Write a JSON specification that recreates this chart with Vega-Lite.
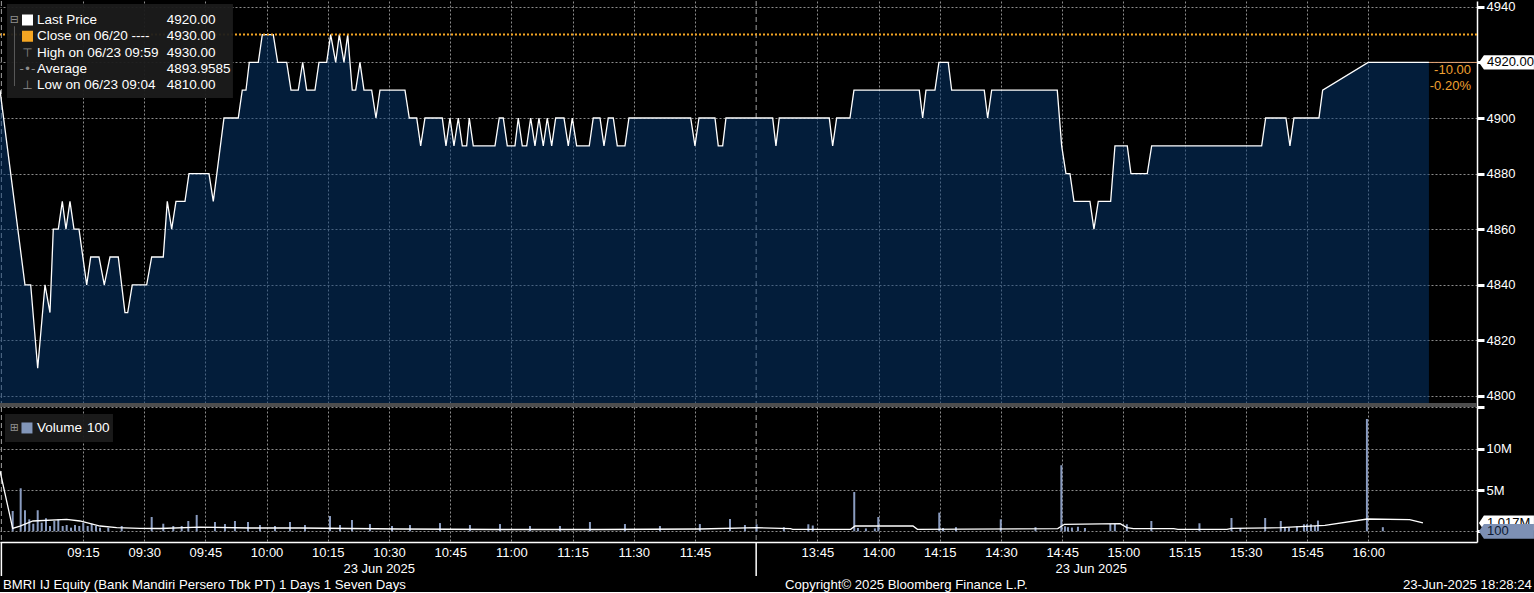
{
  "$schema": "https://vega.github.io/schema/vega-lite/v6.json",
  "background": "#000000",
  "padding": 0,
  "spacing": 0,
  "bounds": "flush",
  "config": {
    "view": {"stroke": null},
    "font": "Liberation Sans",
    "text": {"font": "Liberation Sans"},
    "axis": {"labelFont": "Liberation Sans"}
  },
  "resolve": {"scale": {"x": "independent", "y": "independent"}},
  "datasets": {
    "price": [
      {"t": -5.34, "price": 4910}, {"t": 0.78, "price": 4840}, {"t": 2.18, "price": 4840}, {"t": 3.9, "price": 4810},
      {"t": 5.69, "price": 4840}, {"t": 6.91, "price": 4830}, {"t": 7.72, "price": 4860}, {"t": 8.95, "price": 4860},
      {"t": 9.93, "price": 4870}, {"t": 10.83, "price": 4860}, {"t": 11.81, "price": 4870}, {"t": 12.79, "price": 4860},
      {"t": 14.02, "price": 4860}, {"t": 15.91, "price": 4840}, {"t": 16.89, "price": 4850}, {"t": 18.92, "price": 4850},
      {"t": 20.22, "price": 4840}, {"t": 21.62, "price": 4850}, {"t": 23.65, "price": 4850}, {"t": 25.29, "price": 4830},
      {"t": 25.96, "price": 4830}, {"t": 27.08, "price": 4840}, {"t": 30.61, "price": 4840}, {"t": 31.84, "price": 4850},
      {"t": 34.68, "price": 4850}, {"t": 35.66, "price": 4870}, {"t": 36.74, "price": 4860}, {"t": 37.79, "price": 4870},
      {"t": 40.0, "price": 4870}, {"t": 40.98, "price": 4880}, {"t": 45.88, "price": 4880}, {"t": 46.94, "price": 4870},
      {"t": 49.56, "price": 4900}, {"t": 53.06, "price": 4900}, {"t": 54.04, "price": 4910}, {"t": 54.95, "price": 4910},
      {"t": 55.76, "price": 4920}, {"t": 57.97, "price": 4920}, {"t": 58.95, "price": 4930}, {"t": 61.64, "price": 4930},
      {"t": 62.72, "price": 4920}, {"t": 64.93, "price": 4920}, {"t": 65.98, "price": 4910}, {"t": 67.77, "price": 4910},
      {"t": 68.85, "price": 4920}, {"t": 69.83, "price": 4910}, {"t": 71.86, "price": 4910}, {"t": 72.84, "price": 4920},
      {"t": 74.73, "price": 4920}, {"t": 75.71, "price": 4930}, {"t": 76.94, "price": 4920}, {"t": 77.82, "price": 4930},
      {"t": 78.97, "price": 4920}, {"t": 79.88, "price": 4930}, {"t": 81.0, "price": 4910}, {"t": 81.84, "price": 4910},
      {"t": 82.89, "price": 4920}, {"t": 83.87, "price": 4910}, {"t": 85.76, "price": 4910}, {"t": 86.81, "price": 4900},
      {"t": 87.79, "price": 4910}, {"t": 93.92, "price": 4910}, {"t": 94.98, "price": 4900}, {"t": 96.79, "price": 4900},
      {"t": 97.77, "price": 4890}, {"t": 98.82, "price": 4900}, {"t": 103.06, "price": 4900}, {"t": 103.97, "price": 4890},
      {"t": 104.95, "price": 4900}, {"t": 105.93, "price": 4890}, {"t": 106.99, "price": 4900}, {"t": 107.97, "price": 4890},
      {"t": 109.04, "price": 4890}, {"t": 109.68, "price": 4900}, {"t": 110.66, "price": 4890}, {"t": 115.98, "price": 4890},
      {"t": 117.03, "price": 4900}, {"t": 118.01, "price": 4900}, {"t": 119.0, "price": 4890}, {"t": 120.88, "price": 4890},
      {"t": 121.69, "price": 4900}, {"t": 122.67, "price": 4890}, {"t": 123.75, "price": 4890}, {"t": 124.73, "price": 4900},
      {"t": 125.78, "price": 4890}, {"t": 126.76, "price": 4900}, {"t": 127.82, "price": 4890}, {"t": 128.8, "price": 4900},
      {"t": 129.88, "price": 4890}, {"t": 130.86, "price": 4900}, {"t": 132.89, "price": 4900}, {"t": 133.95, "price": 4890},
      {"t": 134.93, "price": 4900}, {"t": 136.0, "price": 4890}, {"t": 139.09, "price": 4890}, {"t": 140.07, "price": 4900},
      {"t": 141.72, "price": 4900}, {"t": 142.7, "price": 4890}, {"t": 143.75, "price": 4900}, {"t": 144.98, "price": 4900},
      {"t": 145.96, "price": 4890}, {"t": 147.84, "price": 4890}, {"t": 148.82, "price": 4900}, {"t": 163.95, "price": 4900},
      {"t": 165.0, "price": 4890}, {"t": 165.98, "price": 4900}, {"t": 169.9, "price": 4900}, {"t": 170.71, "price": 4890},
      {"t": 171.79, "price": 4890}, {"t": 172.6, "price": 4900}, {"t": 184.04, "price": 4900}, {"t": 184.85, "price": 4890},
      {"t": 185.66, "price": 4900}, {"t": 197.92, "price": 4900}, {"t": 198.75, "price": 4890}, {"t": 199.73, "price": 4900},
      {"t": 202.99, "price": 4900}, {"t": 203.97, "price": 4910}, {"t": 219.98, "price": 4910}, {"t": 220.81, "price": 4900},
      {"t": 221.62, "price": 4910}, {"t": 223.82, "price": 4910}, {"t": 224.8, "price": 4920}, {"t": 227.08, "price": 4920},
      {"t": 227.92, "price": 4910}, {"t": 235.91, "price": 4910}, {"t": 236.74, "price": 4900}, {"t": 237.72, "price": 4910},
      {"t": 253.8, "price": 4910}, {"t": 254.88, "price": 4890}, {"t": 255.93, "price": 4880}, {"t": 256.91, "price": 4880},
      {"t": 257.89, "price": 4870}, {"t": 261.81, "price": 4870}, {"t": 262.79, "price": 4860}, {"t": 263.85, "price": 4870},
      {"t": 266.89, "price": 4870}, {"t": 267.94, "price": 4890}, {"t": 270.96, "price": 4890}, {"t": 271.86, "price": 4880},
      {"t": 275.86, "price": 4880}, {"t": 276.94, "price": 4890}, {"t": 303.9, "price": 4890}, {"t": 304.88, "price": 4900},
      {"t": 309.85, "price": 4900}, {"t": 310.83, "price": 4890}, {"t": 311.81, "price": 4900}, {"t": 317.94, "price": 4900},
      {"t": 318.85, "price": 4910}, {"t": 330.0, "price": 4920}, {"t": 344.9, "price": 4920}
    ],
    "volume": [
      {"t": -2.23, "vol": 2460000}, {"t": -0.27, "vol": 5210000}, {"t": 0.78, "vol": 2550000}, {"t": 1.84, "vol": 1450000},
      {"t": 2.82, "vol": 920000}, {"t": 3.9, "vol": 2550000}, {"t": 4.88, "vol": 1040000}, {"t": 5.93, "vol": 1580000},
      {"t": 6.91, "vol": 640000}, {"t": 7.97, "vol": 1250000}, {"t": 8.95, "vol": 1450000}, {"t": 10.02, "vol": 640000},
      {"t": 11.0, "vol": 760000}, {"t": 12.06, "vol": 440000}, {"t": 13.04, "vol": 760000}, {"t": 14.09, "vol": 640000},
      {"t": 15.07, "vol": 1040000}, {"t": 16.15, "vol": 640000}, {"t": 17.13, "vol": 920000}, {"t": 18.19, "vol": 640000},
      {"t": 19.17, "vol": 440000}, {"t": 21.2, "vol": 440000}, {"t": 24.49, "vol": 640000}, {"t": 31.84, "vol": 1730000},
      {"t": 34.68, "vol": 920000}, {"t": 37.13, "vol": 640000}, {"t": 39.19, "vol": 640000}, {"t": 40.81, "vol": 1250000},
      {"t": 42.87, "vol": 1980000}, {"t": 47.35, "vol": 1130000}, {"t": 49.8, "vol": 880000}, {"t": 52.25, "vol": 1250000},
      {"t": 55.44, "vol": 1130000}, {"t": 58.38, "vol": 760000}, {"t": 62.06, "vol": 640000}, {"t": 65.74, "vol": 1130000},
      {"t": 69.41, "vol": 760000}, {"t": 75.54, "vol": 1850000}, {"t": 78.0, "vol": 760000}, {"t": 80.93, "vol": 1370000},
      {"t": 85.34, "vol": 880000}, {"t": 90.74, "vol": 640000}, {"t": 95.15, "vol": 760000}, {"t": 102.5, "vol": 1000000},
      {"t": 109.85, "vol": 760000}, {"t": 117.21, "vol": 880000}, {"t": 124.56, "vol": 640000}, {"t": 131.91, "vol": 640000},
      {"t": 139.26, "vol": 1130000}, {"t": 147.84, "vol": 880000}, {"t": 156.42, "vol": 640000}, {"t": 166.2, "vol": 880000},
      {"t": 173.58, "vol": 1490000}, {"t": 177.25, "vol": 760000}, {"t": 180.1, "vol": 850000}, {"t": 186.79, "vol": 500000},
      {"t": 192.79, "vol": 850000}, {"t": 193.87, "vol": 700000}, {"t": 204.04, "vol": 4760000}, {"t": 204.95, "vol": 400000},
      {"t": 206.9, "vol": 350000}, {"t": 209.1, "vol": 350000}, {"t": 209.93, "vol": 1730000}, {"t": 224.88, "vol": 2260000},
      {"t": 225.79, "vol": 400000}, {"t": 228.97, "vol": 500000}, {"t": 239.95, "vol": 1450000}, {"t": 248.46, "vol": 500000},
      {"t": 254.8, "vol": 8000000}, {"t": 255.69, "vol": 600000}, {"t": 256.42, "vol": 500000}, {"t": 257.4, "vol": 450000},
      {"t": 258.87, "vol": 550000}, {"t": 260.59, "vol": 400000}, {"t": 266.81, "vol": 900000}, {"t": 267.92, "vol": 900000},
      {"t": 270.86, "vol": 850000}, {"t": 276.86, "vol": 1250000}, {"t": 288.65, "vol": 970000}, {"t": 296.5, "vol": 1610000},
      {"t": 298.68, "vol": 400000}, {"t": 304.76, "vol": 1610000}, {"t": 308.58, "vol": 1250000}, {"t": 309.6, "vol": 500000},
      {"t": 310.59, "vol": 450000}, {"t": 312.55, "vol": 600000}, {"t": 314.26, "vol": 850000}, {"t": 315.0, "vol": 850000},
      {"t": 315.98, "vol": 850000}, {"t": 316.96, "vol": 650000}, {"t": 317.7, "vol": 1300000}, {"t": 329.7, "vol": 13600000},
      {"t": 333.6, "vol": 500000}, {"t": 344.9, "vol": 100}
    ],
    "volavg": [
      {"t": -5.34, "vol": 7300000}, {"t": -2.23, "vol": 360000}, {"t": -0.44, "vol": 640000}, {"t": 2.75, "vol": 1250000},
      {"t": 11.0, "vol": 1450000}, {"t": 14.26, "vol": 1250000}, {"t": 19.17, "vol": 640000}, {"t": 23.26, "vol": 440000},
      {"t": 28.97, "vol": 360000}, {"t": 33.87, "vol": 340000}, {"t": 43.68, "vol": 500000}, {"t": 55.93, "vol": 400000},
      {"t": 68.19, "vol": 400000}, {"t": 92.7, "vol": 280000}, {"t": 117.21, "vol": 220000}, {"t": 141.72, "vol": 220000},
      {"t": 166.2, "vol": 280000}, {"t": 180.12, "vol": 440000}, {"t": 188.4, "vol": 320000}, {"t": 188.97, "vol": 240000},
      {"t": 203.16, "vol": 240000}, {"t": 204.24, "vol": 640000}, {"t": 218.43, "vol": 640000}, {"t": 219.53, "vol": 240000},
      {"t": 253.92, "vol": 320000}, {"t": 255.56, "vol": 850000}, {"t": 269.22, "vol": 920000}, {"t": 270.86, "vol": 440000},
      {"t": 272.5, "vol": 320000}, {"t": 282.33, "vol": 320000}, {"t": 283.38, "vol": 240000}, {"t": 295.39, "vol": 240000},
      {"t": 296.5, "vol": 360000}, {"t": 308.5, "vol": 440000}, {"t": 319.4, "vol": 730000}, {"t": 329.8, "vol": 1490000},
      {"t": 340.17, "vol": 1410000}, {"t": 343.43, "vol": 1017000}
    ],
    "legend": [
      {"item": "Last Price", "val": "4920.00", "icon": ""},
      {"item": "Close on 06/20 ----", "val": "4930.00", "icon": ""},
      {"item": "High on 06/23 09:59", "val": "4930.00", "icon": "⊤"},
      {"item": "Average", "val": "4893.9585", "icon": "-•-"},
      {"item": "Low on 06/23 09:04", "val": "4810.00", "icon": "⊥"}
    ],
    "levels": [
      {"level": "close", "price": 4930},
      {"level": "last", "price": 4920, "chg": "-10.00", "pct": "-0.20%"}
    ],
    "vlevels": [
      {"level": "avg", "vol": 1017000, "label": "1.017M"},
      {"level": "last", "vol": 100, "label": "100"}
    ],
    "breaks": [{"t": -5}, {"t": 180}],
    "notes": [
      {"key": "tree", "text": "⊟"},
      {"key": "vtree", "text": "⊞"},
      {"key": "vol", "text": "Volume"},
      {"key": "volval", "text": "100"},
      {"key": "ticker", "text": "BMRI IJ Equity (Bank Mandiri Persero Tbk PT) 1 Days 1 Seven Days"},
      {"key": "copyright", "text": "Copyright© 2025 Bloomberg Finance L.P."},
      {"key": "stamp", "text": "23-Jun-2025 18:28:24"}
    ]
  },
  "vconcat": [
    {
      "width": 1477,
      "height": 406,
      "resolve": {"scale": {"y": "independent"}, "axis": {"y": "independent"}},
      "layer": [
        {
          "layer": [
            {
              "data": {"name": "breaks"},
              "mark": {"type": "rule", "color": "#a0a0a0", "strokeDash": [5, 3], "strokeWidth": 1, "clip": true},
              "encoding": {
                "x": {"field": "t", "type": "quantitative",
                  "scale": {"domain": [-5.34, 356.68], "nice": false, "zero": false},
                  "axis": {"values": [15, 30, 45, 60, 75, 90, 105, 120, 135, 150, 165, 195, 210, 225, 240, 255, 270, 285, 300, 315, 330],
                    "labels": false, "ticks": false, "domain": false, "grid": true, "gridColor": "#8c8c8c", "gridDash": [2, 2], "gridWidth": 1, "title": null}}
              }
            },
            {
              "data": {"name": "price"},
              "mark": {"type": "area", "fill": "#063a74", "fillOpacity": 0.5, "clip": true},
              "encoding": {
                "x": {"field": "t", "type": "quantitative"},
                "y": {"field": "price", "type": "quantitative",
                  "scale": {"domain": [4796.04, 4942.09], "nice": false, "zero": false},
                  "axis": {"orient": "right", "values": [4800, 4810, 4820, 4830, 4840, 4850, 4860, 4870, 4880, 4890, 4900, 4910, 4920, 4930, 4940],
                    "format": "d", "labelExpr": "datum.value % 20 == 0 && datum.value != 4920 ? datum.label : ''",
                    "grid": true, "gridColor": "#8c8c8c", "gridDash": [2, 2],
                    "gridOpacity": {"condition": {"test": "datum.value % 20 != 0", "value": 0}, "value": 1},
                    "domain": true, "domainColor": "#ffffff", "domainWidth": 1.5,
                    "ticks": true, "tickColor": "#ffffff",
                    "tickSize": {"condition": {"test": "datum.value % 20 == 0", "value": 7}, "value": 4},
                    "tickWidth": {"condition": {"test": "datum.value % 20 == 0", "value": 3}, "value": 1.2},
                    "labelColor": "#ffffff", "labelFontSize": 13, "labelPadding": 2, "title": null}},
                "y2": {"datum": 4796.04}
              }
            },
            {
              "data": {"name": "price"},
              "mark": {"type": "line", "color": "#ffffff", "strokeWidth": 1.3, "clip": true},
              "encoding": {
                "x": {"field": "t", "type": "quantitative"},
                "y": {"field": "price", "type": "quantitative"}
              }
            },
            {
              "data": {"name": "levels"},
              "transform": [{"filter": "datum.level == 'close'"}],
              "mark": {"type": "rule", "color": "#f5a623", "strokeDash": [2, 2], "strokeWidth": 2, "clip": true},
              "encoding": {"y": {"field": "price", "type": "quantitative"}}
            },
            {
              "data": {"name": "levels"},
              "transform": [{"filter": "datum.level == 'last'"}],
              "mark": {"type": "rule", "color": "#e8a878", "strokeWidth": 1},
              "encoding": {"x": {"datum": 344.9}, "x2": {"datum": 356.68}, "y": {"field": "price", "type": "quantitative"}}
            },
            {
              "data": {"name": "levels"},
              "transform": [{"filter": "datum.level == 'last'"}],
              "mark": {"type": "point", "shape": "M-1,0L-0.82,-0.26L1,-0.26L1,0.26L-0.82,0.26Z", "size": 3025, "filled": true, "color": "#ffffff", "opacity": 1, "strokeWidth": 0},
              "encoding": {"x": {"datum": 363.9}, "y": {"field": "price", "type": "quantitative"}}
            },
            {
              "data": {"name": "levels"},
              "transform": [{"filter": "datum.level == 'last'"}],
              "mark": {"type": "text", "align": "left", "baseline": "middle", "fontSize": 13, "color": "#000000"},
              "encoding": {"x": {"datum": 359.12}, "y": {"field": "price", "type": "quantitative"}, "text": {"field": "price", "type": "quantitative", "format": ".2f"}}
            },
            {
              "data": {"name": "levels"},
              "transform": [{"filter": "datum.level == 'last'"}],
              "mark": {"type": "text", "align": "right", "baseline": "middle", "fontSize": 13, "color": "#f0a030", "dy": 8},
              "encoding": {"x": {"datum": 355.2}, "y": {"field": "price", "type": "quantitative"}, "text": {"field": "chg"}}
            },
            {
              "data": {"name": "levels"},
              "transform": [{"filter": "datum.level == 'last'"}],
              "mark": {"type": "text", "align": "right", "baseline": "middle", "fontSize": 13, "color": "#f0a030", "dy": 24},
              "encoding": {"x": {"datum": 355.2}, "y": {"field": "price", "type": "quantitative"}, "text": {"field": "pct"}}
            },
            {
              "data": {"name": "levels"},
              "transform": [{"filter": "datum.level == 'close'"}],
              "mark": {"type": "rect", "color": "#4d4d4d", "opacity": 1},
              "encoding": {"y": {"datum": 4797.5}, "y2": {"datum": 4796.04}}
            },
            {
              "data": {"name": "levels"},
              "transform": [{"filter": "datum.level == 'close'"}],
              "mark": {"type": "rect", "color": "#1b1b1b", "opacity": 0.95},
              "encoding": {"x": {"datum": -3.63}, "x2": {"datum": 51.76}, "y": {"datum": 4941.0}, "y2": {"datum": 4907.2}}
            },
            {
              "data": {"name": "levels"},
              "transform": [{"filter": "datum.level == 'close'"}],
              "mark": {"type": "rule", "color": "#5a5a5a", "strokeWidth": 1},
              "encoding": {"x": {"datum": -1.79}, "y": {"datum": 4933.0}, "y2": {"datum": 4911.5}}
            },
            {
              "data": {"name": "notes"},
              "transform": [{"filter": "datum.key == 'tree'"}],
              "mark": {"type": "text", "align": "center", "baseline": "middle", "fontSize": 11, "color": "#909090", "font": "DejaVu Sans"},
              "encoding": {"x": {"datum": -1.79}, "y": {"datum": 4935.26}, "text": {"field": "text"}}
            }
          ]
        },
        {
          "data": {"name": "legend"},
          "encoding": {
            "y": {"field": "item", "type": "ordinal",
              "scale": {"type": "point", "domain": ["Last Price", "Close on 06/20 ----", "High on 06/23 09:59", "Average", "Low on 06/23 09:04"], "range": [19, 84], "padding": 0},
              "axis": null}
          },
          "layer": [
            {
              "transform": [{"filter": "datum.icon == ''"}],
              "mark": {"type": "point", "shape": "square", "size": 121, "filled": true, "opacity": 1},
              "encoding": {
                "x": {"datum": 1.4},
                "color": {"field": "item", "type": "nominal",
                  "scale": {"domain": ["Last Price", "Close on 06/20 ----", "High on 06/23 09:59", "Average", "Low on 06/23 09:04"], "range": ["#ffffff", "#f5a623", "#8c8c8c", "#8c8c8c", "#8c8c8c"]},
                  "legend": null}
              }
            },
            {
              "transform": [{"filter": "datum.icon != ''"}],
              "mark": {"type": "text", "align": "center", "baseline": "middle", "fontSize": 12, "color": "#8c8c8c", "font": "DejaVu Sans"},
              "encoding": {"x": {"datum": 1.4}, "text": {"field": "icon"}}
            },
            {
              "mark": {"type": "text", "align": "left", "baseline": "middle", "fontSize": 13.5, "color": "#ffffff"},
              "encoding": {"x": {"datum": 3.73}, "text": {"field": "item"}}
            },
            {
              "mark": {"type": "text", "align": "left", "baseline": "middle", "fontSize": 13.5, "color": "#ffffff"},
              "encoding": {"x": {"datum": 35.51}, "text": {"field": "val"}}
            }
          ]
        }
      ]
    },
    {
      "width": 1477,
      "height": 135,
      "layer": [
        {
          "data": {"name": "breaks"},
          "mark": {"type": "rule", "color": "#a0a0a0", "strokeDash": [5, 3], "strokeWidth": 1, "clip": true},
          "encoding": {
            "x": {"field": "t", "type": "quantitative",
              "scale": {"domain": [-5.34, 356.68], "nice": false, "zero": false},
              "axis": {"values": [15, 30, 45, 60, 75, 90, 105, 120, 135, 150, 165, 195, 210, 225, 240, 255, 270, 285, 300, 315, 330, 87.5, 262],
                "labelExpr": "datum.value == 87.5 || datum.value == 262 ? ['', '23 Jun 2025'] : timeFormat(datetime(2025, 5, 23, 0, datum.value <= 180 ? 540 + datum.value : 630 + datum.value), '%H:%M')",
                "grid": true, "gridColor": "#8c8c8c", "gridDash": [2, 2],
                "gridOpacity": {"condition": {"test": "datum.value == 87.5 || datum.value == 262", "value": 0}, "value": 1},
                "ticks": false, "domain": true, "domainColor": "#ffffff", "domainWidth": 1.5,
                "labelColor": "#ffffff", "labelFontSize": 13, "labelPadding": 4, "labelBaseline": "top", "labelLineHeight": 16,
                "labelOverlap": false, "labelFlush": false, "labelBound": false, "title": null}}
          }
        },
        {
          "data": {"name": "breaks"},
          "mark": {"type": "rule", "color": "#ffffff", "strokeWidth": 1.5},
          "encoding": {"x": {"field": "t", "type": "quantitative"}, "y": {"datum": -1295000}, "y2": {"datum": -5410000}}
        },
        {
          "data": {"name": "volume"},
          "mark": {"type": "rule", "color": "#8a9cc0", "strokeWidth": 2},
          "encoding": {
            "x": {"field": "t", "type": "quantitative"},
            "y": {"field": "vol", "type": "quantitative",
              "scale": {"domain": [-1295000, 15050000], "nice": false, "zero": false},
              "axis": {"orient": "right", "values": [0, 2500000, 5000000, 7500000, 10000000, 12500000, 15000000],
                "labelExpr": "datum.value == 5000000 ? '5M' : datum.value == 10000000 ? '10M' : ''",
                "grid": true, "gridColor": "#8c8c8c", "gridDash": [2, 2],
                "gridOpacity": {"condition": {"test": "datum.value % 5000000 != 0", "value": 0}, "value": 1},
                "domain": true, "domainColor": "#ffffff", "domainWidth": 1.5,
                "ticks": true, "tickColor": "#ffffff",
                "tickSize": {"condition": {"test": "datum.value % 5000000 == 0", "value": 7}, "value": 4},
                "tickWidth": {"condition": {"test": "datum.value % 5000000 == 0", "value": 3}, "value": 1.2},
                "labelColor": "#ffffff", "labelFontSize": 13, "labelPadding": 2, "title": null}},
            "y2": {"datum": 0}
          }
        },
        {
          "data": {"name": "volavg"},
          "mark": {"type": "line", "color": "#ffffff", "strokeWidth": 1.3, "clip": true},
          "encoding": {"x": {"field": "t", "type": "quantitative"}, "y": {"field": "vol", "type": "quantitative"}}
        },
        {
          "data": {"name": "notes"},
          "transform": [{"filter": "datum.key == 'vol'"}],
          "mark": {"type": "rect", "color": "#1b1b1b", "opacity": 0.95},
          "encoding": {"x": {"datum": -4.12}, "x2": {"datum": 22.35}, "y": {"datum": 14200000}, "y2": {"datum": 10810000}}
        },
        {
          "data": {"name": "notes"},
          "transform": [{"filter": "datum.key == 'vol'"}],
          "mark": {"type": "point", "shape": "square", "size": 121, "filled": true, "color": "#8296b9", "opacity": 1},
          "encoding": {"x": {"datum": 1.27}, "y": {"datum": 12510000}}
        },
        {
          "data": {"name": "notes"},
          "transform": [{"filter": "datum.key == 'vtree'"}],
          "mark": {"type": "text", "align": "center", "baseline": "middle", "fontSize": 11, "color": "#909090", "font": "DejaVu Sans"},
          "encoding": {"x": {"datum": -1.79}, "y": {"datum": 12510000}, "text": {"field": "text"}}
        },
        {
          "data": {"name": "notes"},
          "transform": [{"filter": "datum.key == 'vol'"}],
          "mark": {"type": "text", "align": "left", "baseline": "middle", "fontSize": 13.5, "color": "#ffffff"},
          "encoding": {"x": {"datum": 3.73}, "y": {"datum": 12510000}, "text": {"field": "text"}}
        },
        {
          "data": {"name": "notes"},
          "transform": [{"filter": "datum.key == 'volval'"}],
          "mark": {"type": "text", "align": "left", "baseline": "middle", "fontSize": 13.5, "color": "#ffffff"},
          "encoding": {"x": {"datum": 15.98}, "y": {"datum": 12510000}, "text": {"field": "text"}}
        },
        {
          "data": {"name": "vlevels"},
          "transform": [{"filter": "datum.level == 'avg'"}],
          "mark": {"type": "point", "shape": "M-1,0L-0.82,-0.27L1,-0.27L1,0.27L-0.82,0.27Z", "size": 3025, "filled": true, "color": "#ffffff", "opacity": 1, "strokeWidth": 0},
          "encoding": {"x": {"datum": 363.9}, "y": {"field": "vol", "type": "quantitative"}}
        },
        {
          "data": {"name": "vlevels"},
          "transform": [{"filter": "datum.level == 'avg'"}],
          "mark": {"type": "text", "align": "left", "baseline": "middle", "fontSize": 13, "color": "#000000"},
          "encoding": {"x": {"datum": 359.12}, "y": {"field": "vol", "type": "quantitative"}, "text": {"field": "label"}}
        },
        {
          "data": {"name": "vlevels"},
          "transform": [{"filter": "datum.level == 'last'"}],
          "mark": {"type": "point", "shape": "M-1,0L-0.82,-0.27L1,-0.27L1,0.27L-0.82,0.27Z", "size": 3025, "filled": true, "color": "#7d90b4", "opacity": 1, "strokeWidth": 0},
          "encoding": {"x": {"datum": 363.9}, "y": {"field": "vol", "type": "quantitative"}}
        },
        {
          "data": {"name": "vlevels"},
          "transform": [{"filter": "datum.level == 'last'"}],
          "mark": {"type": "text", "align": "left", "baseline": "middle", "fontSize": 13, "color": "#0d1a33"},
          "encoding": {"x": {"datum": 359.12}, "y": {"field": "vol", "type": "quantitative"}, "text": {"field": "label"}}
        },
        {
          "data": {"name": "notes"},
          "transform": [{"filter": "datum.key == 'ticker'"}],
          "mark": {"type": "text", "align": "left", "baseline": "middle", "fontSize": 13.2, "color": "#ffffff", "dx": 3},
          "encoding": {"x": {"datum": -5.34}, "y": {"datum": -6500000}, "text": {"field": "text"}}
        },
        {
          "data": {"name": "notes"},
          "transform": [{"filter": "datum.key == 'copyright'"}],
          "mark": {"type": "text", "align": "left", "baseline": "middle", "fontSize": 13.2, "color": "#ffffff"},
          "encoding": {"x": {"datum": 187.06}, "y": {"datum": -6500000}, "text": {"field": "text"}}
        },
        {
          "data": {"name": "notes"},
          "transform": [{"filter": "datum.key == 'stamp'"}],
          "mark": {"type": "text", "align": "right", "baseline": "middle", "fontSize": 13.2, "color": "#ffffff"},
          "encoding": {"x": {"datum": 370.15}, "y": {"datum": -6500000}, "text": {"field": "text"}}
        }
      ]
    }
  ]
}
